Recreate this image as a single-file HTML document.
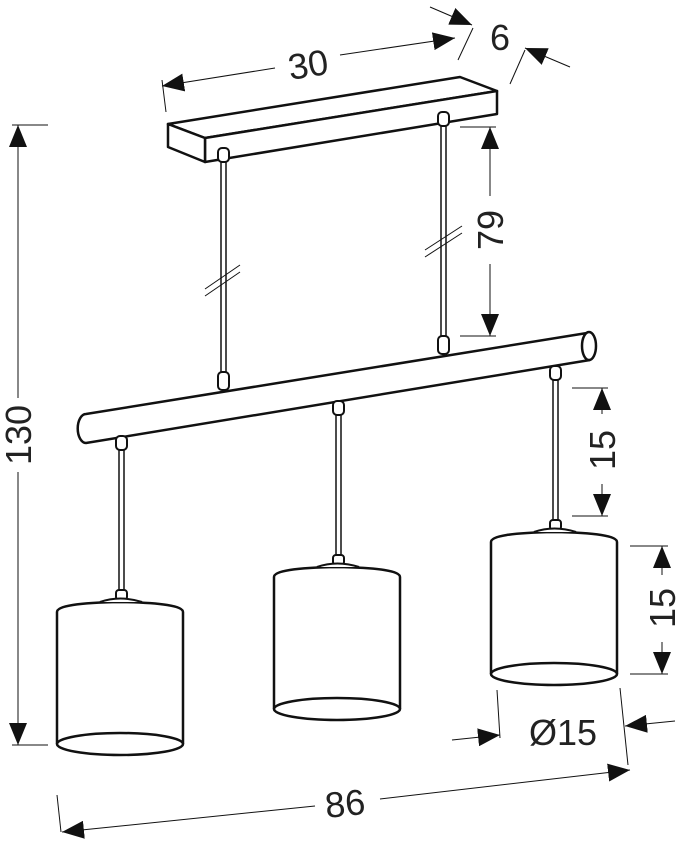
<!DOCTYPE html>
<html><head><style>
html,body{margin:0;padding:0;background:#fff;}
svg{display:block;}
text{font-family:"Liberation Sans",Arial,sans-serif;fill:#222;}
</style></head><body>
<svg width="681" height="846" viewBox="0 0 681 846" xmlns="http://www.w3.org/2000/svg">
<defs>
<marker id="a" viewBox="0 0 10 10" refX="10" refY="5" markerWidth="22" markerHeight="18" markerUnits="userSpaceOnUse" orient="auto-start-reverse" preserveAspectRatio="none">
<path d="M0,0 L10,5 L0,10 z" fill="#111"/></marker>
</defs>
<g stroke="#111" fill="none">
<g stroke-width="2.5" fill="#fff" stroke-linejoin="round">
<path d="M168,124 L460,77 L497,91 L205,138 Z"/>
<path d="M205,138 L497,91 L497,114 L205,162 Z"/>
<path d="M168,124 L205,138 L205,162 L168,147 Z"/>
</g>
<g stroke-width="1.5">
<line x1="221" y1="158" x2="221" y2="378"/><line x1="226" y1="158" x2="226" y2="378"/>
<line x1="441" y1="118" x2="441" y2="342"/><line x1="446" y1="118" x2="446" y2="342"/>
</g>
<g stroke-width="1">
<line x1="205" y1="296" x2="240" y2="272"/><line x1="205" y1="289" x2="240" y2="265"/>
<line x1="425" y1="257" x2="462" y2="233"/><line x1="425" y1="250" x2="462" y2="226"/>
</g>
<g stroke-width="2" fill="#fff">
<rect x="218" y="148" width="11" height="14" rx="4"/>
<rect x="438" y="112" width="11" height="14" rx="4"/>
<rect x="218" y="372" width="11" height="18" rx="4"/>
<rect x="438" y="336" width="11" height="18" rx="4"/>
</g>
<path d="M587,333 L86,414 A8,14 0 0 0 86,443 L590,360" stroke-width="2.5" fill="#fff"/>
<ellipse cx="589" cy="346" rx="7" ry="14" stroke-width="2.5" fill="#fff"/>
<g stroke-width="1.5">
<line x1="119" y1="445" x2="119" y2="595"/><line x1="124" y1="445" x2="124" y2="595"/>
<line x1="336" y1="410" x2="336" y2="560"/><line x1="341" y1="410" x2="341" y2="560"/>
<line x1="553" y1="374" x2="553" y2="525"/><line x1="558" y1="374" x2="558" y2="525"/>
</g>
<g stroke-width="2" fill="#fff">
<rect x="116" y="436" width="11" height="14" rx="4"/>
<rect x="333" y="401" width="11" height="14" rx="4"/>
<rect x="550" y="366" width="11" height="14" rx="4"/>
<rect x="116" y="590" width="11" height="10" rx="3"/>
<rect x="333" y="555" width="11" height="10" rx="3"/>
<rect x="550" y="520" width="11" height="10" rx="3"/>
</g>
<g stroke-width="2.5" fill="#fff">
<path d="M57,744 L57,612 Q57,603 120,602 Q183,603 183,612 L183,744"/>
<ellipse cx="120" cy="744" rx="63" ry="11"/>
<path d="M274,709 L274,577 Q274,568 337,567 Q400,568 400,577 L400,709"/>
<ellipse cx="337" cy="709" rx="63" ry="11"/>
<path d="M491,674 L491,542 Q491,533 554,532 Q617,533 617,542 L617,674"/>
<ellipse cx="554" cy="674" rx="63" ry="11"/>
<path d="M100,602 Q120,595 142,602" stroke-width="2"/>
<path d="M317,567 Q337,560 359,567" stroke-width="2"/>
<path d="M534,532 Q554,525 576,532" stroke-width="2"/>
</g>
<g stroke-width="1">
<line x1="12" y1="125" x2="48" y2="125"/><line x1="12" y1="745" x2="48" y2="745"/>
<line x1="18" y1="125" x2="18" y2="398" marker-start="url(#a)"/>
<line x1="18" y1="472" x2="18" y2="745" marker-end="url(#a)"/>
<line x1="460" y1="127" x2="496" y2="127"/><line x1="460" y1="336" x2="496" y2="336"/>
<line x1="490" y1="127" x2="490" y2="196" marker-start="url(#a)"/>
<line x1="490" y1="264" x2="490" y2="336" marker-end="url(#a)"/>
<line x1="572" y1="388" x2="608" y2="388"/><line x1="572" y1="516" x2="608" y2="516"/>
<line x1="602" y1="388" x2="602" y2="414" marker-start="url(#a)"/>
<line x1="602" y1="484" x2="602" y2="516" marker-end="url(#a)"/>
<line x1="630" y1="546" x2="668" y2="546"/><line x1="630" y1="674" x2="668" y2="674"/>
<line x1="662" y1="546" x2="662" y2="575" marker-start="url(#a)"/>
<line x1="662" y1="642" x2="662" y2="674" marker-end="url(#a)"/>
<line x1="162" y1="80" x2="166" y2="112"/>
<line x1="162" y1="86" x2="275" y2="68" marker-start="url(#a)"/>
<line x1="340" y1="55" x2="455" y2="38" marker-end="url(#a)"/>
<line x1="458" y1="60" x2="473" y2="28"/>
<line x1="430" y1="7" x2="472" y2="25" marker-end="url(#a)"/>
<line x1="510" y1="84" x2="525" y2="50"/>
<line x1="570" y1="67" x2="525" y2="48" marker-end="url(#a)"/>
<line x1="497" y1="690" x2="500" y2="738"/><line x1="620" y1="688" x2="628" y2="765"/>
<line x1="452" y1="740" x2="500" y2="735" marker-end="url(#a)"/>
<line x1="675" y1="721" x2="625" y2="726" marker-end="url(#a)"/>
<line x1="57" y1="795" x2="61" y2="832"/>
<line x1="62" y1="832" x2="315" y2="806" marker-start="url(#a)"/>
<line x1="380" y1="799" x2="630" y2="770" marker-end="url(#a)"/>
</g>
</g>
<g font-size="36">
<text x="308" y="77" text-anchor="middle" transform="rotate(-9 308 64)">30</text>
<text x="500" y="50" text-anchor="middle">6</text>
<text x="345" y="816" text-anchor="middle" transform="rotate(-6 345 803)">86</text>
<text x="563" y="745" text-anchor="middle">Ø15</text>
<text transform="translate(31 435) rotate(-90)" text-anchor="middle">130</text>
<text transform="translate(503 230) rotate(-90)" text-anchor="middle">79</text>
<text transform="translate(615 450) rotate(-90)" text-anchor="middle">15</text>
<text transform="translate(675 608) rotate(-90)" text-anchor="middle">15</text>
</g>
</svg>
</body></html>
